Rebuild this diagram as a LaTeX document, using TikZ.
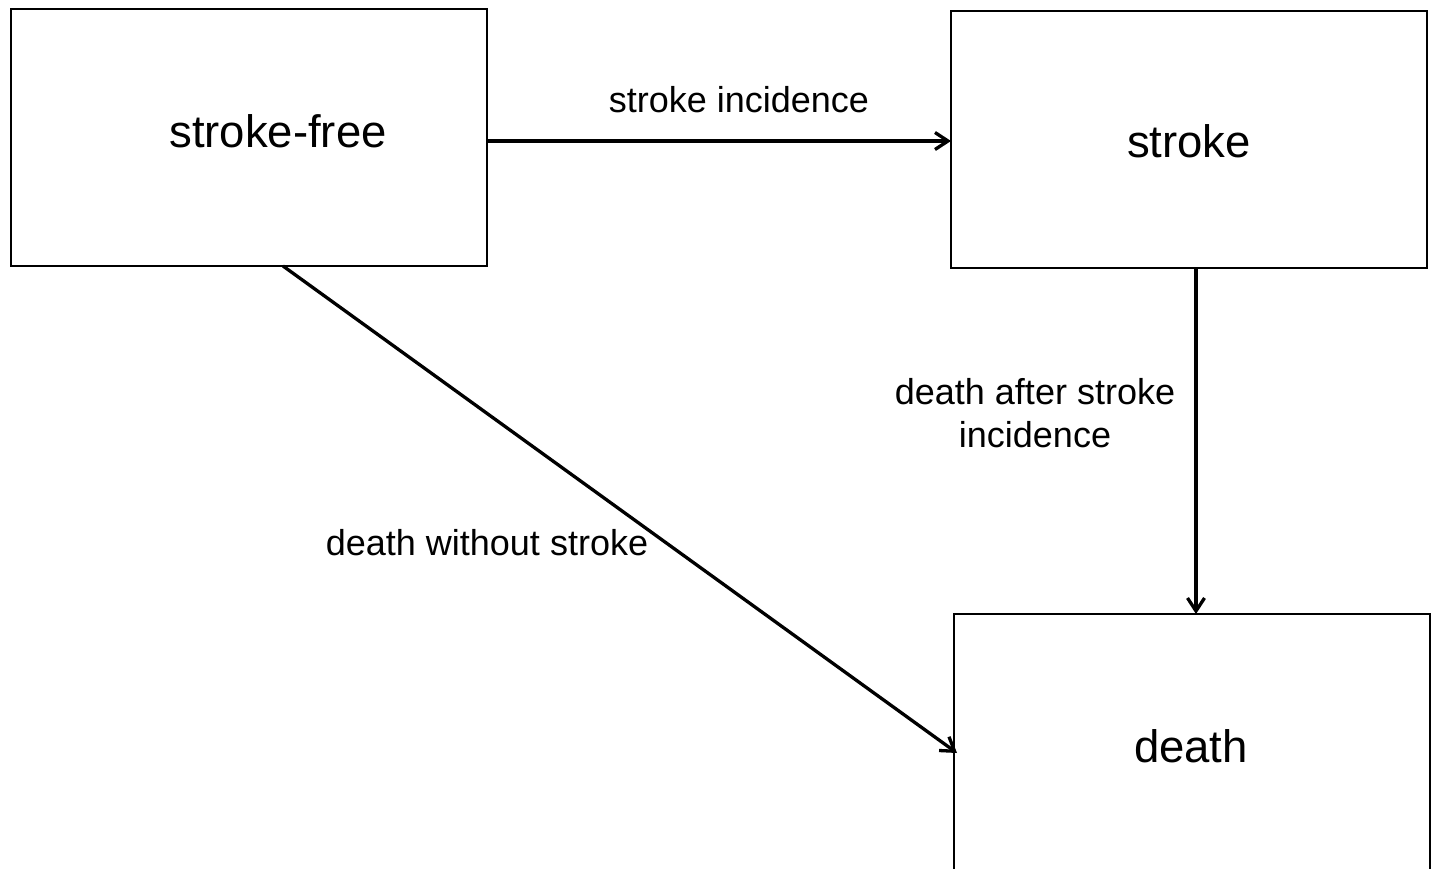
\documentclass[tikz,border=0pt]{standalone}
\usepackage{fontspec}
\setmainfont{Liberation Sans}
\usetikzlibrary{arrows.meta,calc}
\begin{document}
\begin{tikzpicture}[x=1pt,y=-1pt,
  statebox/.style={draw=black,line width=2.8pt,minimum width=476pt,inner sep=0pt,outer sep=0pt},
  bigtext/.style={font=\fontsize{45.5}{54}\selectfont,inner sep=0pt},
  edgetext/.style={font=\fontsize{36}{43}\selectfont,inner sep=0pt,align=center},
  link/.style={line width=3.3pt,-{Straight Barb[length=13pt,width=17pt,line width=3.3pt]}}]
\useasboundingbox (0,0) rectangle (1432,869);
\clip (0,0) rectangle (1432,869);
\fill[white] (0,0) rectangle (1432,869);
\node[statebox,minimum height=257pt] (sf) at (249,137.5) {};
\node[statebox,minimum height=257pt] (st) at (1189,139.5) {};
\node[statebox,minimum height=266pt] (de) at (1192,747) {};
\node[bigtext] (sft) at (278,131) {stroke-free};
\node[bigtext] (stt) at (1189,141) {stroke};
\node[bigtext] (det) at (1191,746) {death};
\draw[link] ($(sf.east)+(0,3.5)$) -- ($(st.west)+(0,1.5)$);
\draw[link] ([xshift=7pt]st.south) -- ([xshift=7pt]st.south |- de.north);
\draw[link] ([xshift=34pt]sf.south) -- ($(de.west)+(3,6)$);
\node[edgetext] (l1) at (739,100) {stroke incidence};
\node[edgetext] (l2) at (1035,413) {death after stroke\\incidence};
\node[edgetext] (l3) at (487,543) {death without stroke};
\end{tikzpicture}
\end{document}
